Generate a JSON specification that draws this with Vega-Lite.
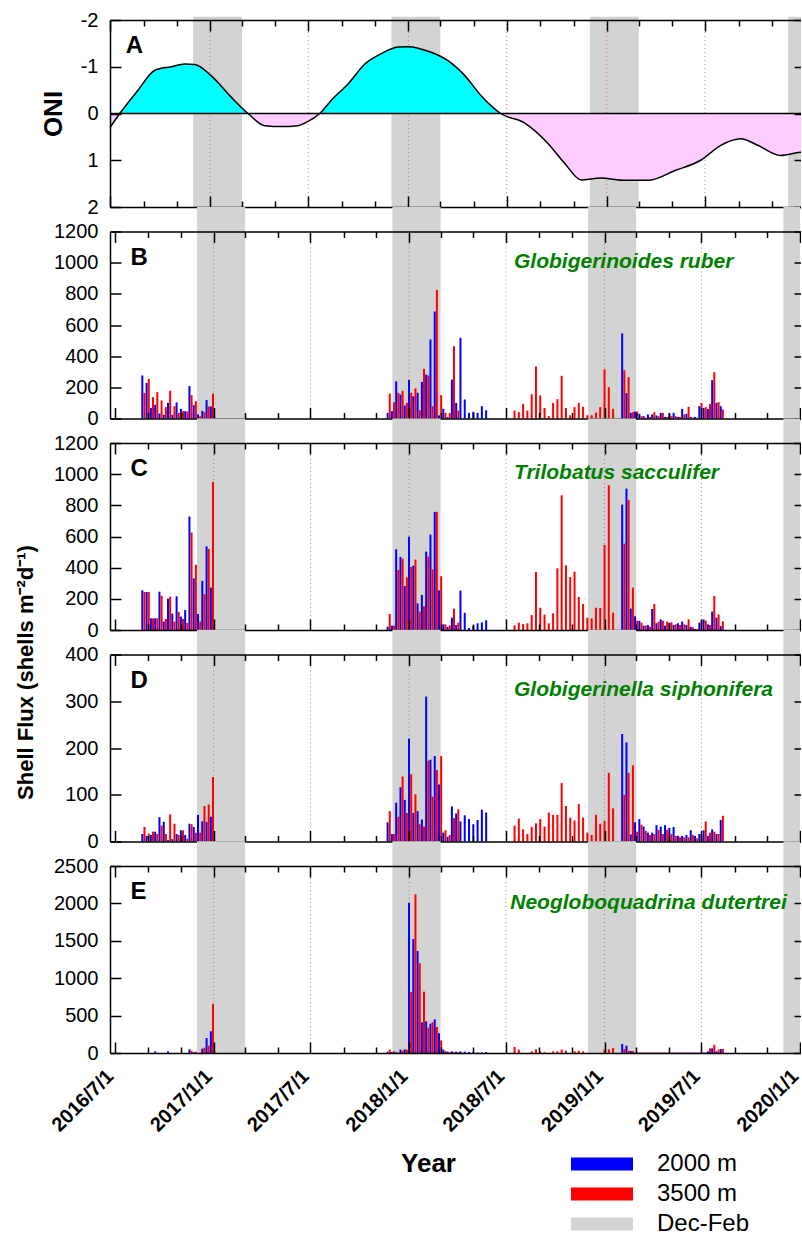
{
"$schema":"https://vega.github.io/schema/vega-lite/v6.json",
"padding":{"left":14,"top":10,"right":-7,"bottom":0},
"background":"white",
"config":{"font":"Liberation Sans","view":{"stroke":null},
"axis":{"labelFont":"Liberation Sans","labelFontSize":20,"labelColor":"#000","domainColor":"#000","domainWidth":1.5,"tickColor":"#000","tickWidth":1.5,"titleFont":"Liberation Sans","titleColor":"#000","titleFontWeight":"bold","grid":false}},
"datasets":{
"bands":[{"s0":"2016-12-01","s1":"2017-03-01","s":"Dec-Feb"},{"s0":"2017-12-01","s1":"2018-03-01","s":"Dec-Feb"},{"s0":"2018-12-01","s1":"2019-03-01","s":"Dec-Feb"},{"s0":"2019-12-01","s1":"2020-01-01","s":"Dec-Feb"}],
"jj":[{"d":"2017-01-01"},{"d":"2017-07-01"},{"d":"2018-01-01"},{"d":"2018-07-01"},{"d":"2019-01-01"},{"d":"2019-07-01"}],
"oni":[
{"d":"2016-07-01","o":0.30,"k":1,"f":"pos"},
{"d":"2016-07-19","o":0,"k":1,"f":"pos"},
{"d":"2016-07-19","o":0,"k":2,"f":"neg","dup":1},
{"d":"2016-08-21","o":-0.49,"k":2,"f":"neg"},
{"d":"2016-09-21","o":-0.92,"k":2,"f":"neg"},
{"d":"2016-10-21","o":-1.00,"k":2,"f":"neg"},
{"d":"2016-11-16","o":-1.06,"k":2,"f":"neg"},
{"d":"2016-12-04","o":-1.05,"k":2,"f":"neg"},
{"d":"2017-01-03","o":-0.81,"k":2,"f":"neg"},
{"d":"2017-02-09","o":-0.35,"k":2,"f":"neg"},
{"d":"2017-03-12","o":0,"k":2,"f":"neg"},
{"d":"2017-03-12","o":0,"k":3,"f":"pos","dup":1},
{"d":"2017-04-12","o":0.26,"k":3,"f":"pos"},
{"d":"2017-05-12","o":0.28,"k":3,"f":"pos"},
{"d":"2017-06-12","o":0.26,"k":3,"f":"pos"},
{"d":"2017-06-27","o":0.19,"k":3,"f":"pos"},
{"d":"2017-07-22","o":0,"k":3,"f":"pos"},
{"d":"2017-07-22","o":0,"k":4,"f":"neg","dup":1},
{"d":"2017-08-12","o":-0.28,"k":4,"f":"neg"},
{"d":"2017-09-12","o":-0.63,"k":4,"f":"neg"},
{"d":"2017-10-13","o":-1.06,"k":4,"f":"neg"},
{"d":"2017-11-12","o":-1.28,"k":4,"f":"neg"},
{"d":"2017-12-13","o":-1.42,"k":4,"f":"neg"},
{"d":"2017-12-31","o":-1.43,"k":4,"f":"neg"},
{"d":"2018-02-12","o":-1.31,"k":4,"f":"neg"},
{"d":"2018-03-15","o":-1.13,"k":4,"f":"neg"},
{"d":"2018-04-15","o":-0.81,"k":4,"f":"neg"},
{"d":"2018-05-15","o":-0.38,"k":4,"f":"neg"},
{"d":"2018-06-20","o":0,"k":4,"f":"neg"},
{"d":"2018-06-20","o":0,"k":5,"f":"pos","dup":1},
{"d":"2018-08-04","o":0.21,"k":5,"f":"pos"},
{"d":"2018-09-15","o":0.64,"k":5,"f":"pos"},
{"d":"2018-10-16","o":1.07,"k":5,"f":"pos"},
{"d":"2018-11-15","o":1.42,"k":5,"f":"pos"},
{"d":"2018-12-21","o":1.38,"k":5,"f":"pos"},
{"d":"2019-02-04","o":1.43,"k":5,"f":"pos"},
{"d":"2019-03-18","o":1.43,"k":5,"f":"pos"},
{"d":"2019-05-07","o":1.22,"k":5,"f":"pos"},
{"d":"2019-06-23","o":1.00,"k":5,"f":"pos"},
{"d":"2019-07-30","o":0.68,"k":5,"f":"pos"},
{"d":"2019-09-05","o":0.54,"k":5,"f":"pos"},
{"d":"2019-10-06","o":0.68,"k":5,"f":"pos"},
{"d":"2019-11-17","o":0.90,"k":5,"f":"pos"},
{"d":"2019-12-23","o":0.83,"k":5,"f":"pos"},
{"d":"2020-01-01","o":0.82,"k":5,"f":"pos"}],
"bars":[
{"d":"2016-08-21","s":"2000 m","B":276,"C":255,"D":16,"E":0},
{"d":"2016-08-29","s":"2000 m","B":229,"C":244,"D":12,"E":0},
{"d":"2016-09-06","s":"2000 m","B":68,"C":75,"D":14,"E":0},
{"d":"2016-09-14","s":"2000 m","B":88,"C":75,"D":21,"E":22},
{"d":"2016-09-22","s":"2000 m","B":32,"C":246,"D":52,"E":0},
{"d":"2016-09-30","s":"2000 m","B":24,"C":54,"D":42,"E":0},
{"d":"2016-10-08","s":"2000 m","B":100,"C":201,"D":3,"E":22},
{"d":"2016-10-16","s":"2000 m","B":24,"C":105,"D":5,"E":0},
{"d":"2016-10-24","s":"2000 m","B":103,"C":216,"D":16,"E":0},
{"d":"2016-11-01","s":"2000 m","B":62,"C":86,"D":24,"E":0},
{"d":"2016-11-09","s":"2000 m","B":47,"C":128,"D":14,"E":0},
{"d":"2016-11-17","s":"2000 m","B":208,"C":728,"D":38,"E":49},
{"d":"2016-11-25","s":"2000 m","B":86,"C":332,"D":31,"E":10},
{"d":"2016-12-03","s":"2000 m","B":26,"C":103,"D":57,"E":0},
{"d":"2016-12-11","s":"2000 m","B":49,"C":315,"D":43,"E":58},
{"d":"2016-12-19","s":"2000 m","B":118,"C":537,"D":42,"E":200},
{"d":"2016-12-27","s":"2000 m","B":77,"C":272,"D":53,"E":290},
{"d":"2016-08-25","s":"3500 m","B":165,"C":244,"D":31,"E":0},
{"d":"2016-09-02","s":"3500 m","B":254,"C":244,"D":17,"E":0},
{"d":"2016-09-10","s":"3500 m","B":137,"C":75,"D":21,"E":0},
{"d":"2016-09-18","s":"3500 m","B":169,"C":75,"D":16,"E":0},
{"d":"2016-09-26","s":"3500 m","B":116,"C":220,"D":34,"E":0},
{"d":"2016-10-04","s":"3500 m","B":73,"C":71,"D":16,"E":0},
{"d":"2016-10-12","s":"3500 m","B":178,"C":214,"D":58,"E":0},
{"d":"2016-10-20","s":"3500 m","B":79,"C":54,"D":38,"E":0},
{"d":"2016-10-28","s":"3500 m","B":36,"C":116,"D":14,"E":0},
{"d":"2016-11-05","s":"3500 m","B":47,"C":71,"D":24,"E":0},
{"d":"2016-11-13","s":"3500 m","B":45,"C":45,"D":6,"E":0},
{"d":"2016-11-21","s":"3500 m","B":150,"C":625,"D":37,"E":31},
{"d":"2016-11-29","s":"3500 m","B":111,"C":419,"D":19,"E":18},
{"d":"2016-12-07","s":"3500 m","B":15,"C":54,"D":19,"E":0},
{"d":"2016-12-15","s":"3500 m","B":41,"C":231,"D":76,"E":71},
{"d":"2016-12-23","s":"3500 m","B":77,"C":520,"D":79,"E":98},
{"d":"2016-12-31","s":"3500 m","B":160,"C":950,"D":138,"E":655},
{"d":"2017-11-22","s":"2000 m","B":36,"C":21,"D":41,"E":18},
{"d":"2017-11-30","s":"2000 m","B":47,"C":28,"D":16,"E":13},
{"d":"2017-12-08","s":"2000 m","B":238,"C":518,"D":83,"E":10},
{"d":"2017-12-16","s":"2000 m","B":154,"C":469,"D":116,"E":45},
{"d":"2017-12-24","s":"2000 m","B":83,"C":282,"D":89,"E":49},
{"d":"2018-01-01","s":"2000 m","B":248,"C":599,"D":220,"E":2005},
{"d":"2018-01-09","s":"2000 m","B":143,"C":413,"D":61,"E":1524},
{"d":"2018-01-17","s":"2000 m","B":165,"C":171,"D":65,"E":1364},
{"d":"2018-01-25","s":"2000 m","B":235,"C":225,"D":47,"E":410},
{"d":"2018-02-02","s":"2000 m","B":282,"C":503,"D":310,"E":423},
{"d":"2018-02-10","s":"2000 m","B":507,"C":612,"D":175,"E":392},
{"d":"2018-02-18","s":"2000 m","B":687,"C":758,"D":183,"E":450},
{"d":"2018-02-26","s":"2000 m","B":20,"C":255,"D":122,"E":263},
{"d":"2018-03-06","s":"2000 m","B":62,"C":36,"D":19,"E":45},
{"d":"2018-03-14","s":"2000 m","B":10,"C":20,"D":10,"E":18},
{"d":"2018-03-22","s":"2000 m","B":250,"C":79,"D":75,"E":22},
{"d":"2018-03-30","s":"2000 m","B":100,"C":32,"D":60,"E":18},
{"d":"2018-04-07","s":"2000 m","B":518,"C":253,"D":43,"E":22},
{"d":"2018-04-15","s":"2000 m","B":122,"C":111,"D":56,"E":18},
{"d":"2018-04-23","s":"2000 m","B":36,"C":13,"D":48,"E":13},
{"d":"2018-05-01","s":"2000 m","B":43,"C":26,"D":37,"E":13},
{"d":"2018-05-09","s":"2000 m","B":36,"C":43,"D":46,"E":5},
{"d":"2018-05-17","s":"2000 m","B":79,"C":49,"D":68,"E":5},
{"d":"2018-05-25","s":"2000 m","B":53,"C":62,"D":62,"E":13},
{"d":"2017-11-26","s":"3500 m","B":160,"C":103,"D":65,"E":45},
{"d":"2017-12-04","s":"3500 m","B":105,"C":28,"D":16,"E":22},
{"d":"2017-12-12","s":"3500 m","B":165,"C":385,"D":53,"E":5},
{"d":"2017-12-20","s":"3500 m","B":178,"C":458,"D":139,"E":31},
{"d":"2017-12-28","s":"3500 m","B":100,"C":338,"D":61,"E":45},
{"d":"2018-01-05","s":"3500 m","B":165,"C":404,"D":144,"E":815},
{"d":"2018-01-13","s":"3500 m","B":193,"C":452,"D":101,"E":2121},
{"d":"2018-01-21","s":"3500 m","B":54,"C":118,"D":37,"E":1199},
{"d":"2018-01-29","s":"3500 m","B":319,"C":152,"D":32,"E":820},
{"d":"2018-02-06","s":"3500 m","B":276,"C":471,"D":173,"E":339},
{"d":"2018-02-14","s":"3500 m","B":80,"C":389,"D":96,"E":414},
{"d":"2018-02-22","s":"3500 m","B":824,"C":758,"D":153,"E":348},
{"d":"2018-03-02","s":"3500 m","B":150,"C":345,"D":183,"E":169},
{"d":"2018-03-10","s":"3500 m","B":36,"C":36,"D":24,"E":27},
{"d":"2018-03-18","s":"3500 m","B":36,"C":30,"D":14,"E":10},
{"d":"2018-03-26","s":"3500 m","B":464,"C":137,"D":50,"E":10},
{"d":"2018-04-03","s":"3500 m","B":51,"C":47,"D":69,"E":10},
{"d":"2018-07-17","s":"3500 m","B":51,"C":30,"D":34,"E":80},
{"d":"2018-07-25","s":"3500 m","B":41,"C":47,"D":49,"E":45},
{"d":"2018-08-02","s":"3500 m","B":94,"C":38,"D":26,"E":0},
{"d":"2018-08-10","s":"3500 m","B":51,"C":43,"D":16,"E":0},
{"d":"2018-08-18","s":"3500 m","B":156,"C":96,"D":31,"E":22},
{"d":"2018-08-26","s":"3500 m","B":334,"C":372,"D":39,"E":49},
{"d":"2018-09-03","s":"3500 m","B":148,"C":143,"D":48,"E":22},
{"d":"2018-09-11","s":"3500 m","B":68,"C":98,"D":32,"E":13},
{"d":"2018-09-19","s":"3500 m","B":15,"C":43,"D":62,"E":0},
{"d":"2018-09-27","s":"3500 m","B":100,"C":107,"D":57,"E":22},
{"d":"2018-10-05","s":"3500 m","B":124,"C":396,"D":57,"E":22},
{"d":"2018-10-13","s":"3500 m","B":274,"C":864,"D":125,"E":45},
{"d":"2018-10-21","s":"3500 m","B":68,"C":415,"D":76,"E":31},
{"d":"2018-10-29","s":"3500 m","B":21,"C":340,"D":51,"E":0},
{"d":"2018-11-06","s":"3500 m","B":73,"C":374,"D":45,"E":22},
{"d":"2018-11-14","s":"3500 m","B":100,"C":212,"D":80,"E":31},
{"d":"2018-11-22","s":"3500 m","B":75,"C":167,"D":51,"E":22},
{"d":"2018-11-30","s":"3500 m","B":21,"C":79,"D":19,"E":0},
{"d":"2018-12-08","s":"3500 m","B":21,"C":75,"D":14,"E":0},
{"d":"2018-12-16","s":"3500 m","B":38,"C":143,"D":57,"E":0},
{"d":"2018-12-24","s":"3500 m","B":73,"C":141,"D":38,"E":0},
{"d":"2019-01-01","s":"3500 m","B":315,"C":546,"D":44,"E":45},
{"d":"2019-01-09","s":"3500 m","B":201,"C":929,"D":147,"E":49},
{"d":"2019-01-17","s":"3500 m","B":62,"C":111,"D":71,"E":67},
{"d":"2019-02-03","s":"2000 m","B":546,"C":805,"D":230,"E":120},
{"d":"2019-02-11","s":"2000 m","B":163,"C":907,"D":212,"E":98},
{"d":"2019-02-19","s":"2000 m","B":36,"C":137,"D":15,"E":27},
{"d":"2019-02-27","s":"2000 m","B":45,"C":88,"D":41,"E":5},
{"d":"2019-03-07","s":"2000 m","B":30,"C":58,"D":48,"E":5},
{"d":"2019-03-15","s":"2000 m","B":15,"C":28,"D":32,"E":5},
{"d":"2019-03-23","s":"2000 m","B":26,"C":32,"D":19,"E":5},
{"d":"2019-03-31","s":"2000 m","B":26,"C":135,"D":19,"E":5},
{"d":"2019-04-08","s":"2000 m","B":19,"C":43,"D":35,"E":5},
{"d":"2019-04-16","s":"2000 m","B":36,"C":68,"D":32,"E":5},
{"d":"2019-04-24","s":"2000 m","B":10,"C":28,"D":35,"E":5},
{"d":"2019-05-02","s":"2000 m","B":32,"C":47,"D":29,"E":5},
{"d":"2019-05-10","s":"2000 m","B":36,"C":32,"D":31,"E":5},
{"d":"2019-05-18","s":"2000 m","B":10,"C":43,"D":12,"E":5},
{"d":"2019-05-26","s":"2000 m","B":62,"C":54,"D":12,"E":5},
{"d":"2019-06-03","s":"2000 m","B":30,"C":32,"D":14,"E":5},
{"d":"2019-06-11","s":"2000 m","B":10,"C":21,"D":24,"E":5},
{"d":"2019-06-19","s":"2000 m","B":10,"C":6,"D":12,"E":5},
{"d":"2019-06-27","s":"2000 m","B":79,"C":47,"D":16,"E":5},
{"d":"2019-07-05","s":"2000 m","B":68,"C":68,"D":24,"E":5},
{"d":"2019-07-13","s":"2000 m","B":62,"C":36,"D":12,"E":22},
{"d":"2019-07-21","s":"2000 m","B":246,"C":118,"D":26,"E":62},
{"d":"2019-07-29","s":"2000 m","B":100,"C":79,"D":16,"E":22},
{"d":"2019-08-06","s":"2000 m","B":79,"C":26,"D":46,"E":53},
{"d":"2019-02-07","s":"3500 m","B":310,"C":554,"D":100,"E":53},
{"d":"2019-02-15","s":"3500 m","B":265,"C":835,"D":147,"E":31},
{"d":"2019-02-23","s":"3500 m","B":41,"C":272,"D":163,"E":27},
{"d":"2019-03-03","s":"3500 m","B":45,"C":60,"D":21,"E":5},
{"d":"2019-03-11","s":"3500 m","B":15,"C":47,"D":36,"E":5},
{"d":"2019-03-19","s":"3500 m","B":5,"C":28,"D":23,"E":5},
{"d":"2019-03-27","s":"3500 m","B":10,"C":21,"D":14,"E":5},
{"d":"2019-04-04","s":"3500 m","B":41,"C":167,"D":16,"E":5},
{"d":"2019-04-12","s":"3500 m","B":15,"C":54,"D":25,"E":5},
{"d":"2019-04-20","s":"3500 m","B":36,"C":60,"D":16,"E":5},
{"d":"2019-04-28","s":"3500 m","B":10,"C":54,"D":25,"E":5},
{"d":"2019-05-06","s":"3500 m","B":15,"C":49,"D":16,"E":5},
{"d":"2019-05-14","s":"3500 m","B":15,"C":36,"D":12,"E":5},
{"d":"2019-05-22","s":"3500 m","B":10,"C":32,"D":9,"E":5},
{"d":"2019-05-30","s":"3500 m","B":26,"C":36,"D":9,"E":5},
{"d":"2019-06-07","s":"3500 m","B":75,"C":68,"D":9,"E":5},
{"d":"2019-06-15","s":"3500 m","B":5,"C":17,"D":14,"E":5},
{"d":"2019-06-23","s":"3500 m","B":5,"C":6,"D":7,"E":5},
{"d":"2019-07-01","s":"3500 m","B":100,"C":60,"D":16,"E":5},
{"d":"2019-07-09","s":"3500 m","B":73,"C":60,"D":43,"E":5},
{"d":"2019-07-17","s":"3500 m","B":94,"C":32,"D":19,"E":62},
{"d":"2019-07-25","s":"3500 m","B":297,"C":218,"D":21,"E":111},
{"d":"2019-08-02","s":"3500 m","B":105,"C":100,"D":16,"E":45},
{"d":"2019-08-10","s":"3500 m","B":58,"C":56,"D":55,"E":53}]
},
"spacing":24.5,
"bounds":"flush",
"vconcat":[
{"width":695,"height":187,"resolve":{"axis":{"x":"independent","y":"independent"}},
"layer":[
{"data":{"name":"bands"},"mark":{"type":"rect"},
"encoding":{
"x":{"field":"s0","type":"temporal","scale":{"type":"utc","domain":[1467331200000,1577836800000],"nice":false},"axis":{"orient":"bottom","domain":true,"ticks":false,"labels":false,"title":null,"zindex":1}},
"x2":{"field":"s1"},
"y":{"datum":2,"type":"quantitative","scale":{"domain":[-2,2],"reverse":true,"nice":false},"axis":{"orient":"left","domain":true,"ticks":false,"labels":true,"values":[-2,-1,0,1,2],"labelExpr":"'' + datum.value","labelPadding":12,"title":"ONI","titleFontSize":26,"titlePadding":14,"zindex":1}},
"y2":{"datum":-2.07},
"color":{"field":"s","type":"nominal","scale":{"domain":["2000 m","3500 m","Dec-Feb"],"range":["#0000ff","#ff0000","#d3d3d3"]}}}},
{"data":{"name":"jj"},"mark":{"type":"rule","color":"#e05050","strokeWidth":1,"strokeDash":[1,3],"opacity":0.8},
"encoding":{"x":{"field":"d","type":"temporal","scale":{"type":"utc","domain":[1467331200000,1577836800000],"nice":false},"axis":{"orient":"bottom","domain":false,"ticks":true,"tickSize":-11,"labels":false,"title":null,"values":[1467331200000,1483228800000,1498867200000,1514764800000,1530403200000,1546300800000,1561939200000,1577836800000],"zindex":1}}}},
{"data":{"name":"oni"},"mark":{"type":"area","interpolate":"monotone"},
"encoding":{
"x":{"field":"d","type":"temporal","scale":{"type":"utc","domain":[1467331200000,1577836800000],"nice":false},"axis":{"orient":"top","domain":true,"ticks":true,"tickSize":-11,"labels":false,"title":null,"values":[1467331200000,1483228800000,1498867200000,1514764800000,1530403200000,1546300800000,1561939200000,1577836800000],"zindex":1}},
"y":{"field":"o","type":"quantitative","stack":null,"scale":{"domain":[-2,2],"reverse":true,"nice":false},"axis":{"orient":"right","domain":true,"ticks":true,"tickSize":-11,"labels":false,"values":[-2,-1,0,1,2],"title":null,"zindex":1}},
"y2":{"datum":0},
"fill":{"field":"f","type":"nominal","scale":{"domain":["neg","pos"],"range":["#00ffff","#ffccff"]},"legend":null},
"detail":{"field":"k"}}},
{"data":{"name":"oni"},"transform":[{"filter":"datum.dup != 1"}],"mark":{"type":"line","interpolate":"monotone","color":"#000","strokeWidth":1.5},
"encoding":{
"x":{"field":"d","type":"temporal","scale":{"type":"utc","domain":[1467331200000,1577836800000],"nice":false},"axis":{"orient":"bottom","domain":false,"ticks":true,"tickSize":-6,"labels":false,"title":null,"values":[1472688000000,1477958400000,1488326400000,1493596800000,1504224000000,1509494400000,1519862400000,1525132800000,1535760000000,1541030400000,1551398400000,1556668800000,1567296000000,1572566400000],"zindex":1}},
"y":{"field":"o","type":"quantitative","scale":{"domain":[-2,2],"reverse":true,"nice":false},"axis":{"orient":"left","domain":false,"ticks":true,"tickSize":-11,"labels":false,"values":[-2,-1,0,1,2],"title":null,"zindex":1}}}},
{"data":{"values":[{}]},"mark":{"type":"rule","color":"#000","strokeWidth":1.5},
"encoding":{"y":{"datum":0,"type":"quantitative","scale":{"domain":[-2,2],"reverse":true,"nice":false},"axis":null}}},
{"data":{"values":[{}]},"mark":{"type":"text","text":"A","align":"left","baseline":"middle","fontSize":24,"fontWeight":"bold","color":"#000"},
"encoding":{
"x":{"datum":{"year":2016,"month":7,"date":30,"utc":true},"type":"temporal","scale":{"type":"utc","domain":[1467331200000,1577836800000],"nice":false},"axis":{"orient":"top","domain":false,"ticks":true,"tickSize":-6,"labels":false,"title":null,"values":[1472688000000,1477958400000,1488326400000,1493596800000,1504224000000,1509494400000,1519862400000,1525132800000,1535760000000,1541030400000,1551398400000,1556668800000,1567296000000,1572566400000],"zindex":1}},
"y":{"datum":-1.44,"type":"quantitative","scale":{"domain":[-2,2],"reverse":true,"nice":false},"axis":null}}}
]},
{"width":695,"height":187,"resolve":{"axis":{"x":"independent","y":"independent"}},
"layer":[
{"data":{"name":"bands"},"mark":{"type":"rect"},
"encoding":{
"x":{"field":"s0","type":"temporal","scale":{"type":"utc","domain":[1467331200000,1577836800000],"nice":false},"axis":{"orient":"bottom","domain":true,"ticks":false,"labels":false,"title":null,"zindex":1}},
"x2":{"field":"s1"},
"y":{"datum":0,"type":"quantitative","scale":{"domain":[0,1200],"nice":false},"axis":{"orient":"left","domain":true,"ticks":false,"labels":true,"values":[0,200,400,600,800,1000,1200],"labelExpr":"'' + datum.value","labelPadding":12,"title":null,"zindex":1}},
"y2":{"datum":1358},
"color":{"field":"s","type":"nominal","scale":{"domain":["2000 m","3500 m","Dec-Feb"],"range":["#0000ff","#ff0000","#d3d3d3"]}}}},
{"data":{"name":"jj"},"mark":{"type":"rule","color":"#e05050","strokeWidth":1,"strokeDash":[1,3],"opacity":0.8},
"encoding":{"x":{"field":"d","type":"temporal","scale":{"type":"utc","domain":[1467331200000,1577836800000],"nice":false},"axis":{"orient":"bottom","domain":false,"ticks":true,"tickSize":-11,"labels":false,"title":null,"values":[1467331200000,1483228800000,1498867200000,1514764800000,1530403200000,1546300800000,1561939200000,1577836800000],"zindex":1}}}},
{"data":{"name":"bars"},"mark":{"type":"bar","width":2},
"encoding":{
"x":{"field":"d","type":"temporal","scale":{"type":"utc","domain":[1467331200000,1577836800000],"nice":false},"axis":{"orient":"top","domain":true,"ticks":true,"tickSize":-11,"labels":false,"title":null,"values":[1467331200000,1483228800000,1498867200000,1514764800000,1530403200000,1546300800000,1561939200000,1577836800000],"zindex":1}},
"y":{"field":"B","type":"quantitative","stack":null,"scale":{"domain":[0,1200],"nice":false},"axis":{"orient":"right","domain":true,"ticks":true,"tickSize":-11,"labels":false,"values":[0,200,400,600,800,1000,1200],"title":null,"zindex":1}},
"color":{"field":"s","type":"nominal","scale":{"domain":["2000 m","3500 m","Dec-Feb"],"range":["#0000ff","#ff0000","#d3d3d3"]}}}},
{"data":{"values":[{}]},"mark":{"type":"text","text":"Globigerinoides ruber","align":"left","baseline":"middle","fontSize":21,"fontWeight":"bold","fontStyle":"italic","color":"#008000"},
"encoding":{
"x":{"datum":{"year":2018,"month":7,"date":16,"utc":true},"type":"temporal","scale":{"type":"utc","domain":[1467331200000,1577836800000],"nice":false},"axis":{"orient":"bottom","domain":false,"ticks":true,"tickSize":-6,"labels":false,"title":null,"values":[1472688000000,1477958400000,1488326400000,1493596800000,1504224000000,1509494400000,1519862400000,1525132800000,1535760000000,1541030400000,1551398400000,1556668800000,1567296000000,1572566400000],"zindex":1}},
"y":{"datum":1007,"type":"quantitative","scale":{"domain":[0,1200],"nice":false},"axis":{"orient":"left","domain":false,"ticks":true,"tickSize":-11,"labels":false,"values":[0,200,400,600,800,1000,1200],"title":null,"zindex":1}}}},
{"data":{"values":[{}]},"mark":{"type":"text","text":"B","align":"left","baseline":"middle","fontSize":24,"fontWeight":"bold","color":"#000"},
"encoding":{
"x":{"datum":{"year":2016,"month":7,"date":30,"utc":true},"type":"temporal","scale":{"type":"utc","domain":[1467331200000,1577836800000],"nice":false},"axis":{"orient":"top","domain":false,"ticks":true,"tickSize":-6,"labels":false,"title":null,"values":[1472688000000,1477958400000,1488326400000,1493596800000,1504224000000,1509494400000,1519862400000,1525132800000,1535760000000,1541030400000,1551398400000,1556668800000,1567296000000,1572566400000],"zindex":1}},
"y":{"datum":1033,"type":"quantitative","scale":{"domain":[0,1200],"nice":false},"axis":null}}}
]},
{"width":695,"height":187,"resolve":{"axis":{"x":"independent","y":"independent"}},
"layer":[
{"data":{"name":"bands"},"mark":{"type":"rect"},
"encoding":{
"x":{"field":"s0","type":"temporal","scale":{"type":"utc","domain":[1467331200000,1577836800000],"nice":false},"axis":{"orient":"bottom","domain":true,"ticks":false,"labels":false,"title":null,"zindex":1}},
"x2":{"field":"s1"},
"y":{"datum":0,"type":"quantitative","scale":{"domain":[0,1200],"nice":false},"axis":{"orient":"left","domain":true,"ticks":false,"labels":true,"values":[0,200,400,600,800,1000,1200],"labelExpr":"'' + datum.value","labelPadding":12,"title":"Shell Flux (shells m⁻²d⁻¹)","titleFontSize":22,"titlePadding":16,"titleY":229,"zindex":1}},
"y2":{"datum":1358},
"color":{"field":"s","type":"nominal","scale":{"domain":["2000 m","3500 m","Dec-Feb"],"range":["#0000ff","#ff0000","#d3d3d3"]}}}},
{"data":{"name":"jj"},"mark":{"type":"rule","color":"#e05050","strokeWidth":1,"strokeDash":[1,3],"opacity":0.8},
"encoding":{"x":{"field":"d","type":"temporal","scale":{"type":"utc","domain":[1467331200000,1577836800000],"nice":false},"axis":{"orient":"bottom","domain":false,"ticks":true,"tickSize":-11,"labels":false,"title":null,"values":[1467331200000,1483228800000,1498867200000,1514764800000,1530403200000,1546300800000,1561939200000,1577836800000],"zindex":1}}}},
{"data":{"name":"bars"},"mark":{"type":"bar","width":2},
"encoding":{
"x":{"field":"d","type":"temporal","scale":{"type":"utc","domain":[1467331200000,1577836800000],"nice":false},"axis":{"orient":"top","domain":true,"ticks":true,"tickSize":-11,"labels":false,"title":null,"values":[1467331200000,1483228800000,1498867200000,1514764800000,1530403200000,1546300800000,1561939200000,1577836800000],"zindex":1}},
"y":{"field":"C","type":"quantitative","stack":null,"scale":{"domain":[0,1200],"nice":false},"axis":{"orient":"right","domain":true,"ticks":true,"tickSize":-11,"labels":false,"values":[0,200,400,600,800,1000,1200],"title":null,"zindex":1}},
"color":{"field":"s","type":"nominal","scale":{"domain":["2000 m","3500 m","Dec-Feb"],"range":["#0000ff","#ff0000","#d3d3d3"]}}}},
{"data":{"values":[{}]},"mark":{"type":"text","text":"Trilobatus sacculifer","align":"left","baseline":"middle","fontSize":21,"fontWeight":"bold","fontStyle":"italic","color":"#008000"},
"encoding":{
"x":{"datum":{"year":2018,"month":7,"date":16,"utc":true},"type":"temporal","scale":{"type":"utc","domain":[1467331200000,1577836800000],"nice":false},"axis":{"orient":"bottom","domain":false,"ticks":true,"tickSize":-6,"labels":false,"title":null,"values":[1472688000000,1477958400000,1488326400000,1493596800000,1504224000000,1509494400000,1519862400000,1525132800000,1535760000000,1541030400000,1551398400000,1556668800000,1567296000000,1572566400000],"zindex":1}},
"y":{"datum":1007,"type":"quantitative","scale":{"domain":[0,1200],"nice":false},"axis":{"orient":"left","domain":false,"ticks":true,"tickSize":-11,"labels":false,"values":[0,200,400,600,800,1000,1200],"title":null,"zindex":1}}}},
{"data":{"values":[{}]},"mark":{"type":"text","text":"C","align":"left","baseline":"middle","fontSize":24,"fontWeight":"bold","color":"#000"},
"encoding":{
"x":{"datum":{"year":2016,"month":7,"date":30,"utc":true},"type":"temporal","scale":{"type":"utc","domain":[1467331200000,1577836800000],"nice":false},"axis":{"orient":"top","domain":false,"ticks":true,"tickSize":-6,"labels":false,"title":null,"values":[1472688000000,1477958400000,1488326400000,1493596800000,1504224000000,1509494400000,1519862400000,1525132800000,1535760000000,1541030400000,1551398400000,1556668800000,1567296000000,1572566400000],"zindex":1}},
"y":{"datum":1033,"type":"quantitative","scale":{"domain":[0,1200],"nice":false},"axis":null}}}
]},
{"width":695,"height":187,"resolve":{"axis":{"x":"independent","y":"independent"}},
"layer":[
{"data":{"name":"bands"},"mark":{"type":"rect"},
"encoding":{
"x":{"field":"s0","type":"temporal","scale":{"type":"utc","domain":[1467331200000,1577836800000],"nice":false},"axis":{"orient":"bottom","domain":true,"ticks":false,"labels":false,"title":null,"zindex":1}},
"x2":{"field":"s1"},
"y":{"datum":0,"type":"quantitative","scale":{"domain":[0,400],"nice":false},"axis":{"orient":"left","domain":true,"ticks":false,"labels":true,"values":[0,100,200,300,400],"labelExpr":"'' + datum.value","labelPadding":12,"title":null,"zindex":1}},
"y2":{"datum":453},
"color":{"field":"s","type":"nominal","scale":{"domain":["2000 m","3500 m","Dec-Feb"],"range":["#0000ff","#ff0000","#d3d3d3"]}}}},
{"data":{"name":"jj"},"mark":{"type":"rule","color":"#e05050","strokeWidth":1,"strokeDash":[1,3],"opacity":0.8},
"encoding":{"x":{"field":"d","type":"temporal","scale":{"type":"utc","domain":[1467331200000,1577836800000],"nice":false},"axis":{"orient":"bottom","domain":false,"ticks":true,"tickSize":-11,"labels":false,"title":null,"values":[1467331200000,1483228800000,1498867200000,1514764800000,1530403200000,1546300800000,1561939200000,1577836800000],"zindex":1}}}},
{"data":{"name":"bars"},"mark":{"type":"bar","width":2},
"encoding":{
"x":{"field":"d","type":"temporal","scale":{"type":"utc","domain":[1467331200000,1577836800000],"nice":false},"axis":{"orient":"top","domain":true,"ticks":true,"tickSize":-11,"labels":false,"title":null,"values":[1467331200000,1483228800000,1498867200000,1514764800000,1530403200000,1546300800000,1561939200000,1577836800000],"zindex":1}},
"y":{"field":"D","type":"quantitative","stack":null,"scale":{"domain":[0,400],"nice":false},"axis":{"orient":"right","domain":true,"ticks":true,"tickSize":-11,"labels":false,"values":[0,100,200,300,400],"title":null,"zindex":1}},
"color":{"field":"s","type":"nominal","scale":{"domain":["2000 m","3500 m","Dec-Feb"],"range":["#0000ff","#ff0000","#d3d3d3"]}}}},
{"data":{"values":[{}]},"mark":{"type":"text","text":"Globigerinella siphonifera","align":"left","baseline":"middle","fontSize":21,"fontWeight":"bold","fontStyle":"italic","color":"#008000"},
"encoding":{
"x":{"datum":{"year":2018,"month":7,"date":16,"utc":true},"type":"temporal","scale":{"type":"utc","domain":[1467331200000,1577836800000],"nice":false},"axis":{"orient":"bottom","domain":false,"ticks":true,"tickSize":-6,"labels":false,"title":null,"values":[1472688000000,1477958400000,1488326400000,1493596800000,1504224000000,1509494400000,1519862400000,1525132800000,1535760000000,1541030400000,1551398400000,1556668800000,1567296000000,1572566400000],"zindex":1}},
"y":{"datum":325,"type":"quantitative","scale":{"domain":[0,400],"nice":false},"axis":{"orient":"left","domain":false,"ticks":true,"tickSize":-11,"labels":false,"values":[0,100,200,300,400],"title":null,"zindex":1}}}},
{"data":{"values":[{}]},"mark":{"type":"text","text":"D","align":"left","baseline":"middle","fontSize":24,"fontWeight":"bold","color":"#000"},
"encoding":{
"x":{"datum":{"year":2016,"month":7,"date":30,"utc":true},"type":"temporal","scale":{"type":"utc","domain":[1467331200000,1577836800000],"nice":false},"axis":{"orient":"top","domain":false,"ticks":true,"tickSize":-6,"labels":false,"title":null,"values":[1472688000000,1477958400000,1488326400000,1493596800000,1504224000000,1509494400000,1519862400000,1525132800000,1535760000000,1541030400000,1551398400000,1556668800000,1567296000000,1572566400000],"zindex":1}},
"y":{"datum":344,"type":"quantitative","scale":{"domain":[0,400],"nice":false},"axis":null}}}
]},
{"width":695,"height":187,"resolve":{"axis":{"x":"independent","y":"independent"}},
"layer":[
{"data":{"name":"bands"},"mark":{"type":"rect"},
"encoding":{
"x":{"field":"s0","type":"temporal","scale":{"type":"utc","domain":[1467331200000,1577836800000],"nice":false},"axis":{"orient":"bottom","domain":true,"ticks":false,"labels":true,"values":[1467331200000,1483228800000,1498867200000,1514764800000,1530403200000,1546300800000,1561939200000,1577836800000],"labelExpr":"utcFormat(datum.value, '%Y/%-m/%-d')","labelAngle":315,"labelAlign":"right","labelBaseline":"middle","labelFontSize":20,"labelFontWeight":"bold","labelPadding":20,"labelOffset":-5,"labelFlush":false,"labelOverlap":false,"title":"Year","titleFontSize":26,"titleX":318,"titleY":110,"titleBaseline":"middle","titleAlign":"center","zindex":1}},
"x2":{"field":"s1"},
"y":{"datum":0,"type":"quantitative","scale":{"domain":[0,2500],"nice":false},"axis":{"orient":"left","domain":true,"ticks":false,"labels":true,"values":[0,500,1000,1500,2000,2500],"labelExpr":"'' + datum.value","labelPadding":12,"title":null,"zindex":1}},
"y2":{"datum":2830},
"color":{"field":"s","type":"nominal","scale":{"domain":["2000 m","3500 m","Dec-Feb"],"range":["#0000ff","#ff0000","#d3d3d3"]},
"legend":{"orient":"none","legendX":480,"legendY":1132,"direction":"vertical","title":null,"symbolType":"M-2.82,-0.59H2.82V0.59H-2.82Z","symbolSize":484,"symbolStrokeWidth":0,"symbolOpacity":1,"labelFont":"Liberation Sans","labelFontSize":24,"labelColor":"#000","labelOffset":43,"rowPadding":6}}}},
{"data":{"name":"jj"},"mark":{"type":"rule","color":"#e05050","strokeWidth":1,"strokeDash":[1,3],"opacity":0.8},
"encoding":{"x":{"field":"d","type":"temporal","scale":{"type":"utc","domain":[1467331200000,1577836800000],"nice":false},"axis":{"orient":"bottom","domain":false,"ticks":true,"tickSize":-11,"labels":false,"title":null,"values":[1467331200000,1483228800000,1498867200000,1514764800000,1530403200000,1546300800000,1561939200000,1577836800000],"zindex":1}}}},
{"data":{"name":"bars"},"mark":{"type":"bar","width":2},
"encoding":{
"x":{"field":"d","type":"temporal","scale":{"type":"utc","domain":[1467331200000,1577836800000],"nice":false},"axis":{"orient":"top","domain":true,"ticks":true,"tickSize":-11,"labels":false,"title":null,"values":[1467331200000,1483228800000,1498867200000,1514764800000,1530403200000,1546300800000,1561939200000,1577836800000],"zindex":1}},
"y":{"field":"E","type":"quantitative","stack":null,"scale":{"domain":[0,2500],"nice":false},"axis":{"orient":"right","domain":true,"ticks":true,"tickSize":-11,"labels":false,"values":[0,500,1000,1500,2000,2500],"title":null,"zindex":1}},
"color":{"field":"s","type":"nominal","scale":{"domain":["2000 m","3500 m","Dec-Feb"],"range":["#0000ff","#ff0000","#d3d3d3"]}}}},
{"data":{"values":[{}]},"mark":{"type":"text","text":"Neogloboquadrina dutertrei","align":"left","baseline":"middle","fontSize":21,"fontWeight":"bold","fontStyle":"italic","color":"#008000"},
"encoding":{
"x":{"datum":{"year":2018,"month":7,"date":9,"utc":true},"type":"temporal","scale":{"type":"utc","domain":[1467331200000,1577836800000],"nice":false},"axis":{"orient":"bottom","domain":false,"ticks":true,"tickSize":-6,"labels":false,"title":null,"values":[1472688000000,1477958400000,1488326400000,1493596800000,1504224000000,1509494400000,1519862400000,1525132800000,1535760000000,1541030400000,1551398400000,1556668800000,1567296000000,1572566400000],"zindex":1}},
"y":{"datum":2005,"type":"quantitative","scale":{"domain":[0,2500],"nice":false},"axis":{"orient":"left","domain":false,"ticks":true,"tickSize":-11,"labels":false,"values":[0,500,1000,1500,2000,2500],"title":null,"zindex":1}}}},
{"data":{"values":[{}]},"mark":{"type":"text","text":"E","align":"left","baseline":"middle","fontSize":24,"fontWeight":"bold","color":"#000"},
"encoding":{
"x":{"datum":{"year":2016,"month":7,"date":30,"utc":true},"type":"temporal","scale":{"type":"utc","domain":[1467331200000,1577836800000],"nice":false},"axis":{"orient":"top","domain":false,"ticks":true,"tickSize":-6,"labels":false,"title":null,"values":[1472688000000,1477958400000,1488326400000,1493596800000,1504224000000,1509494400000,1519862400000,1525132800000,1535760000000,1541030400000,1551398400000,1556668800000,1567296000000,1572566400000],"zindex":1}},
"y":{"datum":2152,"type":"quantitative","scale":{"domain":[0,2500],"nice":false},"axis":null}}}
]}
]
}
